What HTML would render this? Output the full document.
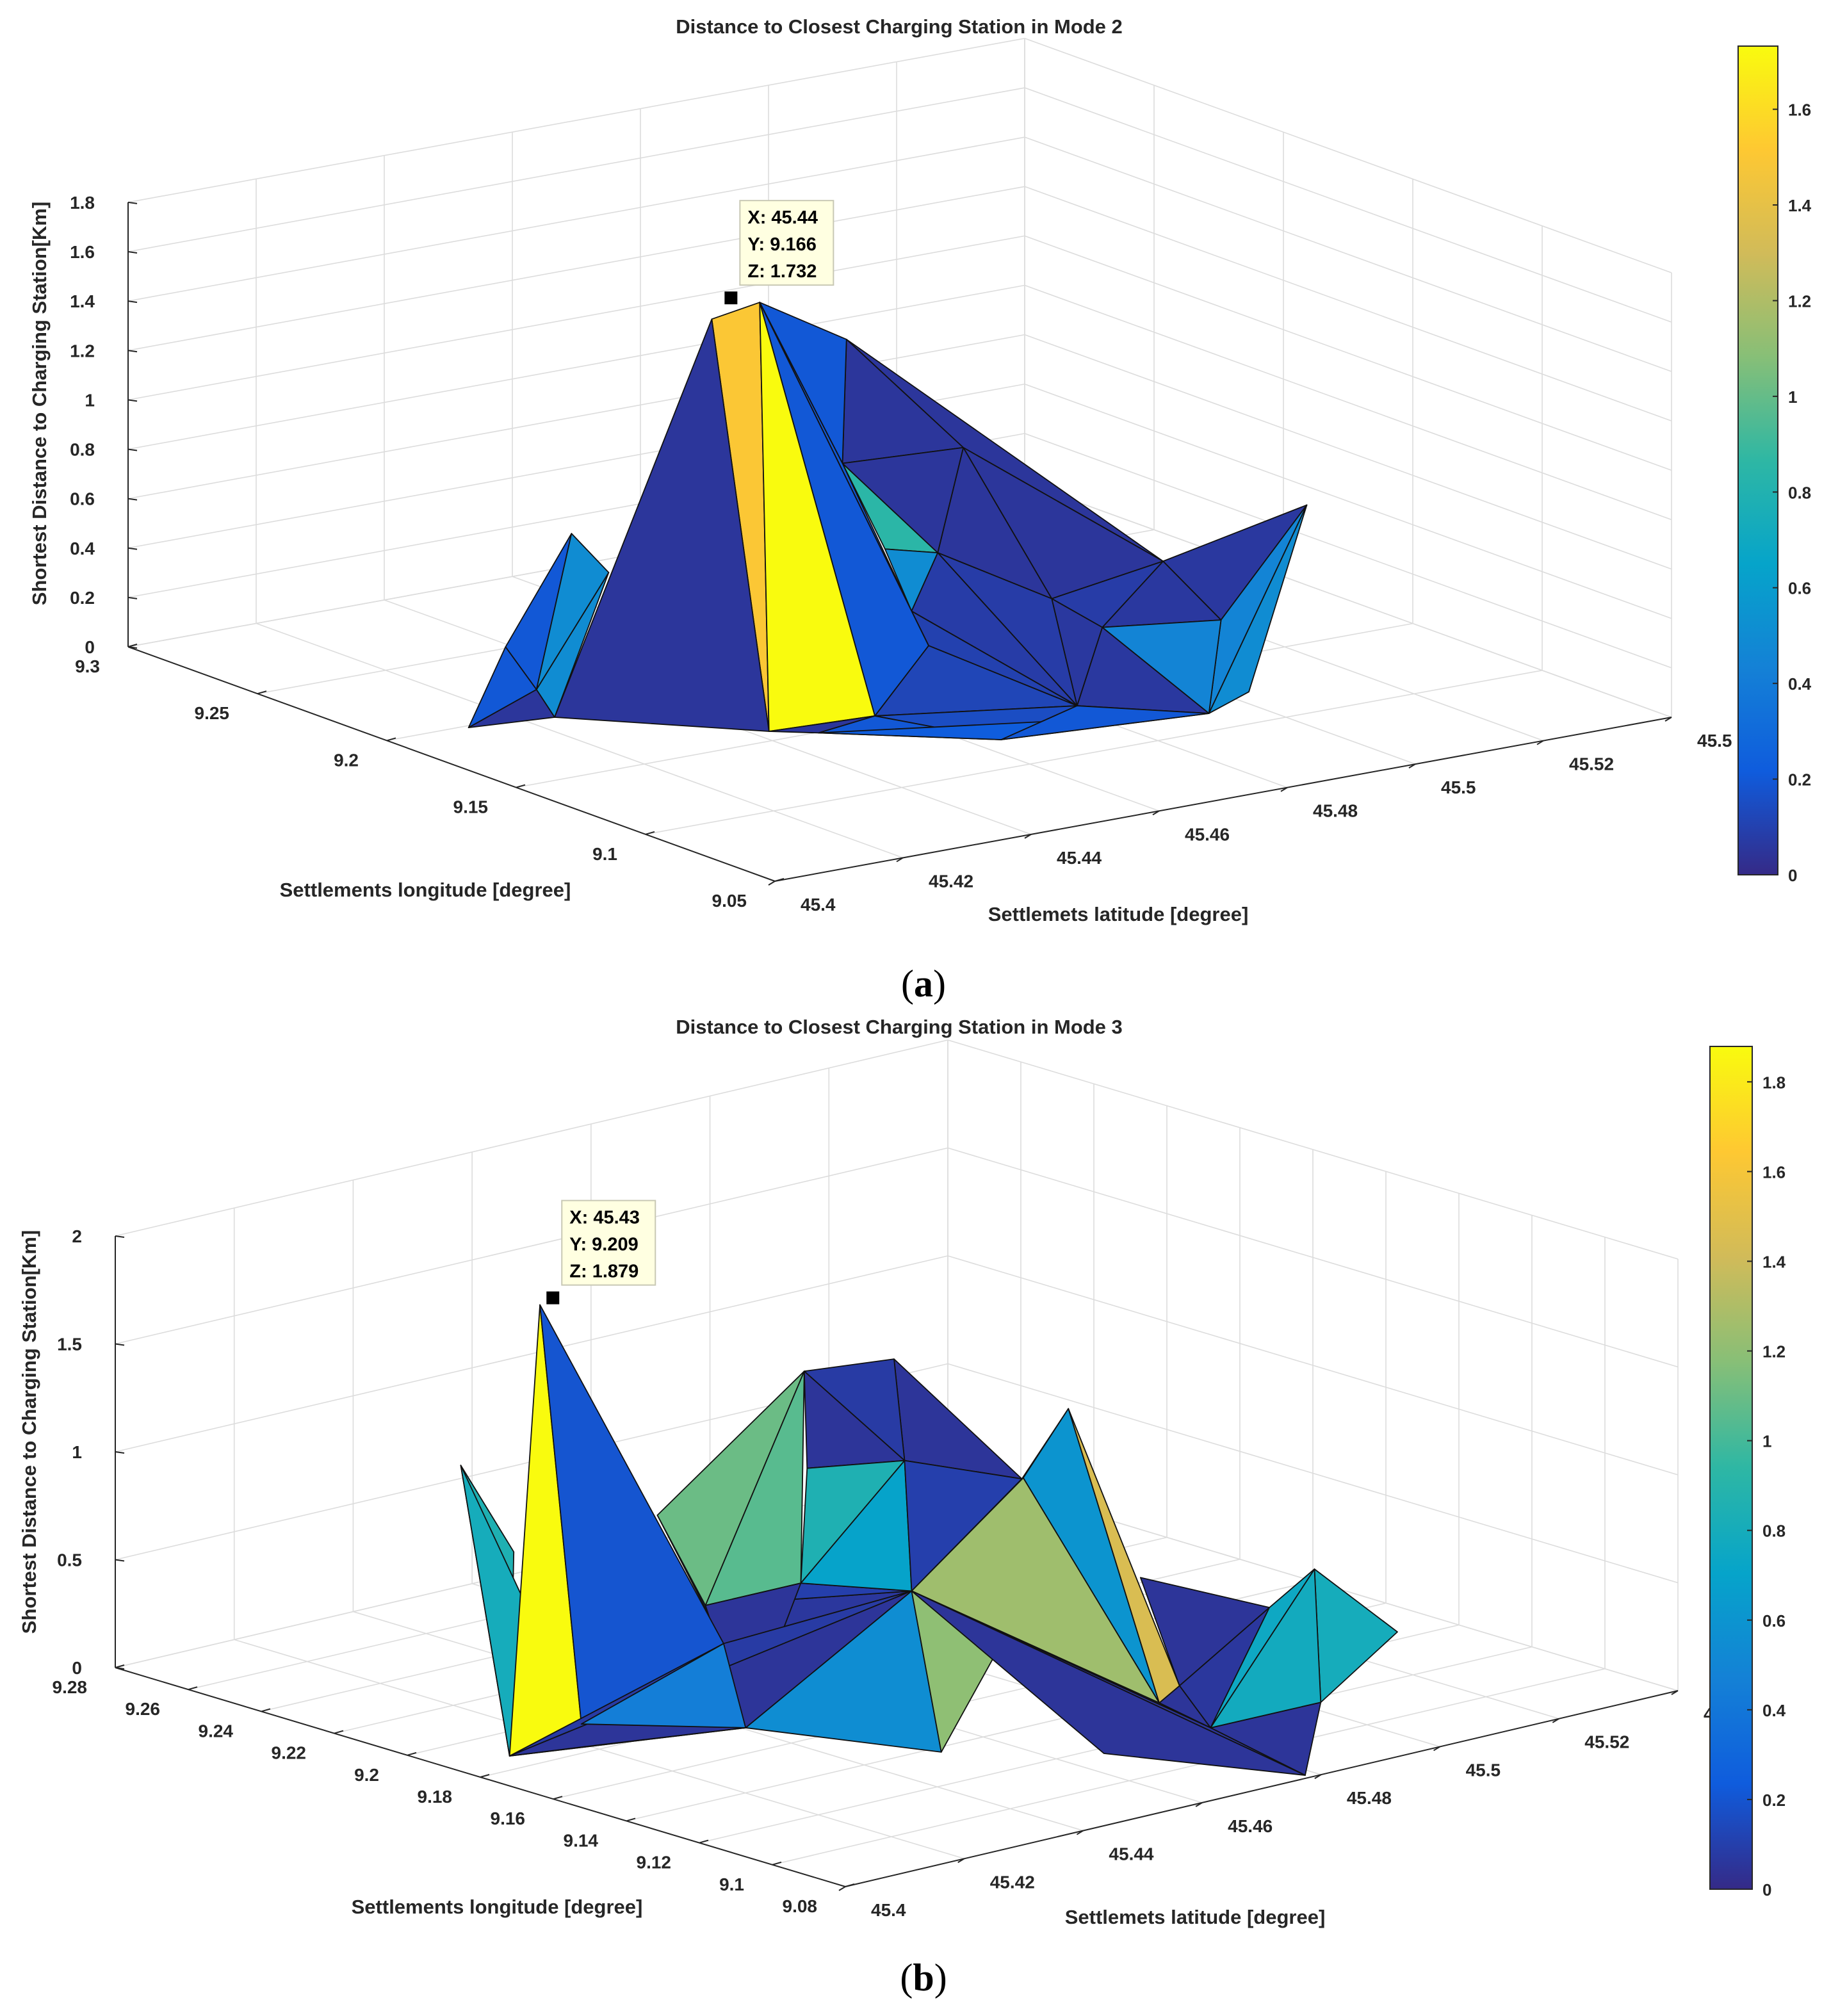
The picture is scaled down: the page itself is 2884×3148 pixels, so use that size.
<!DOCTYPE html>
<html><head><meta charset="utf-8">
<style>
html,body{margin:0;padding:0;background:#fff;}
svg{display:block;}
text{font-family:"Liberation Sans",Arial,sans-serif;font-weight:bold;fill:#262626;}
</style></head>
<body>
<svg id="fig" width="2884" height="3148" viewBox="0 0 1442 1574" xmlns="http://www.w3.org/2000/svg">
<defs>
<linearGradient id="parula" x1="0" y1="1" x2="0" y2="0">
<stop offset="0" stop-color="#352a87"/><stop offset="0.125" stop-color="#0f5cdd"/>
<stop offset="0.25" stop-color="#1481d6"/><stop offset="0.375" stop-color="#06a4ca"/>
<stop offset="0.5" stop-color="#2eb7a4"/><stop offset="0.625" stop-color="#87bf77"/>
<stop offset="0.75" stop-color="#d1bb59"/><stop offset="0.875" stop-color="#fec832"/>
<stop offset="1" stop-color="#f9fb0e"/></linearGradient>
</defs>
<g id="plotA"></g>
<g id="plotB"></g>
<text x="721" y="778" style="font-family:'Liberation Serif',serif;font-weight:normal;fill:#000" font-size="30" text-anchor="middle">(<tspan style="font-weight:bold">a</tspan>)</text>
<text x="721" y="1554" style="font-family:'Liberation Serif',serif;font-weight:normal;fill:#000" font-size="30" text-anchor="middle">(<tspan style="font-weight:bold">b</tspan>)</text>
</svg>
<script>
// ---------- data: plot A ----------
const latTicksA=[45.4,45.42,45.44,45.46,45.48,45.5,45.52,45.54];
const latLabelsA=["45.4","45.42","45.44","45.46","45.48","45.5","45.52","45.5"];
const lonTicksA=[9.05,9.1,9.15,9.2,9.25,9.3];
const lonLabelsA=["9.05","9.1","9.15","9.2","9.25","9.3"];
const zTicksA=[0,0.2,0.4,0.6,0.8,1,1.2,1.4,1.6,1.8];
const zLabelsA=["0","0.2","0.4","0.6","0.8","1","1.2","1.4","1.6","1.8"];
const cbTicksA=[0,0.2,0.4,0.6,0.8,1,1.2,1.4,1.6];
const vLatA=[45.4417,45.4448,45.4423,45.4577,45.4241,45.4728,45.4742,45.4701,45.4712,45.4756,45.4703,45.4907,45.5107,45.4955,45.5205,45.5105,45.4931,45.502,45.4816,45.464,45.4996,45.4431,45.4464,45.4266,45.4122,45.425,45.447];
const vLonA=[9.1591,9.1853,9.157,9.1542,9.1948,9.1708,9.206,9.1974,9.1837,9.1742,9.1712,9.2017,9.174,9.1794,9.1427,9.1511,9.1127,9.1193,9.1352,9.121,9.17,9.2353,9.2291,9.208,9.1986,9.216,9.1495];
const vZA=[1.732,1.55,0,0,0,0.15,1.25,0.8,0.5,0.5,0.3,0.75,0.3,0.2,0.6,0.15,0,0.02,0,0,0.1,0.5,0.35,0.05,0,0.2,0];
const trisA=[[7,12,13],[7,8,12],[12,13,14],[13,15,16],[13,16,21],[14,13,21],[12,14,10],[8,9,10],[8,10,12],[9,10,11],[1,7,8],[15,16,17],[15,17,18],[16,21,17],[21,19,17],[14,21,19],[10,14,19],[11,10,19],[6,11,19],[6,19,4],[4,20,19],[27,4,20],[1,8,11],[1,11,6],[1,6,4],[2,1,3],[1,3,4],[23,5,24],[26,22,24],[22,23,24],[25,26,24],[25,24,5],[5,2,3],[3,27,4],[27,20,17],[20,19,17]];
const cA=[0.05,0.05,0.05,0.06,0.06,0.08,0.05,0.85,0.05,0.5,0.2,0.45,0.5,0.45,0.06,0.06,0.08,0.08,0.1,0.12,0.15,0.2,0.2,0.18,0.2,1.5,1.732,0.5,0.2,0.5,0.2,0.05,0.05,0.05,0.22,0.2];
const tipA=[45.44,9.166,1.732];
// ---------- data: plot B ----------
const latTicksB=[45.4,45.42,45.44,45.46,45.48,45.5,45.52,45.54];
const latLabelsB=["45.4","45.42","45.44","45.46","45.48","45.5","45.52","45.5"];
const lonTicksB=[9.08,9.1,9.12,9.14,9.16,9.18,9.2,9.22,9.24,9.26,9.28];
const lonLabelsB=["9.08","9.1","9.12","9.14","9.16","9.18","9.2","9.22","9.24","9.26","9.28"];
const zTicksB=[0,0.5,1,1.5,2];
const zLabelsB=["0","0.5","1","1.5","2"];
const cbTicksB=[0,0.2,0.4,0.6,0.8,1,1.2,1.4,1.6,1.8];
const vLatB=[45.4266,45.4094,45.4262,45.4581,45.4317,45.44,45.4665,45.4754,45.4837,45.4515,45.4548,45.4668,45.4784,45.4674,45.4686,45.4638,45.4839,45.4898,45.4878,45.491,45.5039,45.4965,45.5083,45.4959,45.4843,45.4783,45.4662,45.4513,45.4405,45.4217,45.4787];
const vLonB=[9.207,9.1873,9.195,9.208,9.237,9.236,9.1996,9.1895,9.168,9.2154,9.2076,9.1993,9.1915,9.202,9.1736,9.1352,9.1307,9.1652,9.1315,9.1474,9.1331,9.1087,9.1052,9.106,9.1173,9.0816,9.117,9.1373,9.1733,9.182,9.1678];
const vZB=[1.879,0,0,0.1,0.95,0.5,1.35,1.4,0.9,0.7,0.3,0.9,0.9,0.35,0.45,1.2,0.05,1.2,0.1,0.5,0.35,0.7,0.35,0.1,0,0,0,0,0,0,0.1];
const trisB=[[8,9,13],[7,8,13],[7,13,12],[18,16,9],[20,21,19],[21,25,19],[17,19,25],[25,24,26],[18,16,17],[18,19,17],[22,23,24],[22,24,25],[21,22,25],[10,11,4],[11,14,4],[11,15,4],[7,10,11],[7,11,14],[12,13,14],[11,14,15],[11,14,29],[13,14,15],[13,15,9],[9,15,16],[16,15,17],[15,28,29],[15,28,31],[15,17,25],[15,25,26],[15,26,27],[5,6,2],[5,2,3],[1,2,3],[1,3,4],[2,4,15],[2,15,29],[2,29,30],[3,4,29]];
const cB=[0.05,0.08,0.05,0.05,0.05,0.06,0.05,0.05,0.6,1.45,0.8,0.78,0.75,0.2,0.2,0.06,1.1,1.05,0.85,0.1,0.05,0.7,0.1,1.25,1.25,0.55,1.2,0.05,0.05,0.05,0.85,0.8,1.879,0.2,0.08,0.05,0.5,0.45];
const tipB=[45.43,9.209,1.879];

const NS="http://www.w3.org/2000/svg";
const PAR=["#352a87","#0f5cdd","#1481d6","#06a4ca","#2eb7a4","#87bf77","#d1bb59","#fec832","#f9fb0e"];
function hex(h){return [1,3,5].map(i=>parseInt(h.substr(i,2),16));}
function parula(t){t=Math.max(0,Math.min(1,t));const s=t*8,i=Math.min(7,Math.floor(s)),f=s-i;const a=hex(PAR[i]),b=hex(PAR[i+1]);return "rgb("+a.map((v,k)=>Math.round(v+(b[k]-v)*f)).join(",")+")";}
function mk(parent,tag,attrs){const e=document.createElementNS(NS,tag);for(const k in attrs)e.setAttribute(k,attrs[k]);parent.appendChild(e);return e;}

function drawPlot(g,L,D){
  const proj=(lat,lon,z)=>{const a=(lat-L.lat0)/(L.lat1-L.lat0),b=(lon-L.lon0)/(L.lon1-L.lon0);
    return [L.ox+a*L.ax+b*L.bx, L.oy+a*L.ay+b*L.by-z*L.zs];};
  const line=(p,q,st,w,name)=>{const e=mk(g,'line',{x1:p[0],y1:p[1],x2:q[0],y2:q[1],stroke:st,'stroke-width':w});
    
    return e;};
  const grid='#dcdcdc';
  const lonMax=L.lon1, latMax=L.lat1;
  D.latT.forEach(v=>{line(proj(v,L.lon0,0),proj(v,lonMax,0),grid,0.8,'floor-grid-lat');line(proj(v,lonMax,0),proj(v,lonMax,L.zmax),grid,0.8,'wall-grid-lat');});
  D.lonT.forEach(v=>{line(proj(L.lat0,v,0),proj(latMax,v,0),grid,0.8,'floor-grid-lon');line(proj(latMax,v,0),proj(latMax,v,L.zmax),grid,0.8,'wall-grid-lon');});
  D.zT.forEach(v=>{line(proj(L.lat0,lonMax,v),proj(latMax,lonMax,v),grid,0.8,'wall-grid-z');line(proj(latMax,lonMax,v),proj(latMax,L.lon0,v),grid,0.8,'wall-grid-z');});
  const ax='#262626';
  line(proj(L.lat0,L.lon0,0),proj(latMax,L.lon0,0),ax,1,'x-axis-line');
  line(proj(L.lat0,L.lon0,0),proj(L.lat0,lonMax,0),ax,1,'y-axis-line');
  line(proj(L.lat0,lonMax,0),proj(L.lat0,lonMax,L.zmax),ax,1,'z-axis-line');
  D.latT.forEach((v,i)=>{const p=proj(v,L.lon0,0);line(p,[p[0]-5,p[1]+3],ax,1,'x-tick');
    const t=mk(g,'text',{x:p[0]+20,y:p[1]+23,'font-size':14});t.textContent=D.latL[i];
    
    });
  D.lonT.forEach((v,i)=>{const p=proj(L.lat0,v,0);line(p,[p[0]+7,p[1]-2],ax,1,'y-tick');
    const t=mk(g,'text',{x:p[0]-22,y:p[1]+20,'font-size':14,'text-anchor':'end'});t.textContent=D.lonL[i];
    
    });
  D.zT.forEach((v,i)=>{const p=proj(L.lat0,lonMax,v);line(p,[p[0]+7,p[1]+1],ax,1,'z-tick');
    const t=mk(g,'text',{x:p[0]-26,y:p[1]+5,'font-size':14,'text-anchor':'end'});t.textContent=D.zL[i];
    
    });
  const P=D.lat.map((v,i)=>proj(v,D.lon[i],D.z[i]));
  D.tris.forEach((t,i)=>{
    const pts=t.map(v=>P[v-1].join(',')).join(' ');
    const e=mk(g,'polygon',{points:pts,fill:parula(D.c[i]/D.cmax),stroke:'#111','stroke-width':0.9,'stroke-linejoin':'round'});
    
    });
  const tp=proj(D.tip[0],D.tip[1],D.tip[2]);
  const m=mk(g,'rect',{x:tp[0]-5,y:tp[1]-5,width:10,height:10,fill:'#000'});
  
  
  const bx=tp[0]+7,by=tp[1]-76;
  const r=mk(g,'rect',{x:bx,y:by,width:73,height:66,fill:'#ffffe1',stroke:'#c8c8b4','stroke-width':1});
  
  
  ['X: '+D.tip[0],'Y: '+D.tip[1],'Z: '+D.tip[2]].forEach((s,k)=>{const t=mk(g,'text',{x:bx+6,y:by+18+k*21,'font-size':14.5});t.style.fill='#000';t.textContent=s;
    
    });
  const cb=mk(g,'rect',{x:L.cbx,y:L.cbTop,width:L.cbw,height:L.cbBot-L.cbTop,fill:'url(#parula)',stroke:'#262626','stroke-width':1});
  
  
  D.cbT.forEach(v=>{const y=L.cbBot-v/D.cmax*(L.cbBot-L.cbTop);
    line([L.cbx+L.cbw-4,y],[L.cbx+L.cbw,y],ax,1,'colorbar-tick');
    const t=mk(g,'text',{x:L.cbx+L.cbw+8,y:y+5,'font-size':13});t.textContent=String(v);
    
    });
  const tt=mk(g,'text',{x:702,y:L.titleY,'font-size':15.5,'text-anchor':'middle'});tt.textContent=D.title;
  
  
  const xl=mk(g,'text',{x:L.xlx,y:L.xly,'font-size':15.5,'text-anchor':'middle'});xl.textContent='Settlemets latitude [degree]';
  
  
  const yl=mk(g,'text',{x:L.ylx,y:L.yly,'font-size':15.5,'text-anchor':'middle'});yl.textContent='Settlements longitude [degree]';
  
  
  const zl=mk(g,'text',{x:L.zlx,y:L.zly,'font-size':15.5,'text-anchor':'middle',transform:'rotate(-90 '+L.zlx+' '+L.zly+')'});zl.textContent='Shortest Distance to Charging Station[Km]';
  
  
}
drawPlot(document.getElementById('plotA'),
 {lat0:45.4,lat1:45.54,lon0:9.05,lon1:9.3,ox:605,oy:688,ax:700,ay:-128,bx:-505,by:-183,zs:192.8,zmax:1.8,
  cbx:1357,cbw:31,cbTop:36,cbBot:683,titleY:26,xlx:873,xly:719,ylx:332,yly:700,zlx:36,zly:315},
 {latT:latTicksA,latL:latLabelsA,lonT:lonTicksA,lonL:lonLabelsA,zT:zTicksA,zL:zLabelsA,cbT:cbTicksA,
  lat:vLatA,lon:vLonA,z:vZA,tris:trisA,c:cA,cmax:1.732,tip:tipA,title:'Distance to Closest Charging Station in Mode 2'});
drawPlot(document.getElementById('plotB'),
 {lat0:45.4,lat1:45.54,lon0:9.08,lon1:9.28,ox:660,oy:1473,ax:650,ay:-153,bx:-570,by:-171,zs:168.5,zmax:2,
  cbx:1335,cbw:33,cbTop:817,cbBot:1475,titleY:807,xlx:933,xly:1502,ylx:388,yly:1494,zlx:28,zly:1118},
 {latT:latTicksB,latL:latLabelsB,lonT:lonTicksB,lonL:lonLabelsB,zT:zTicksB,zL:zLabelsB,cbT:cbTicksB,
  lat:vLatB,lon:vLonB,z:vZB,tris:trisB,c:cB,cmax:1.879,tip:tipB,title:'Distance to Closest Charging Station in Mode 3'});
</script>
</body></html>
